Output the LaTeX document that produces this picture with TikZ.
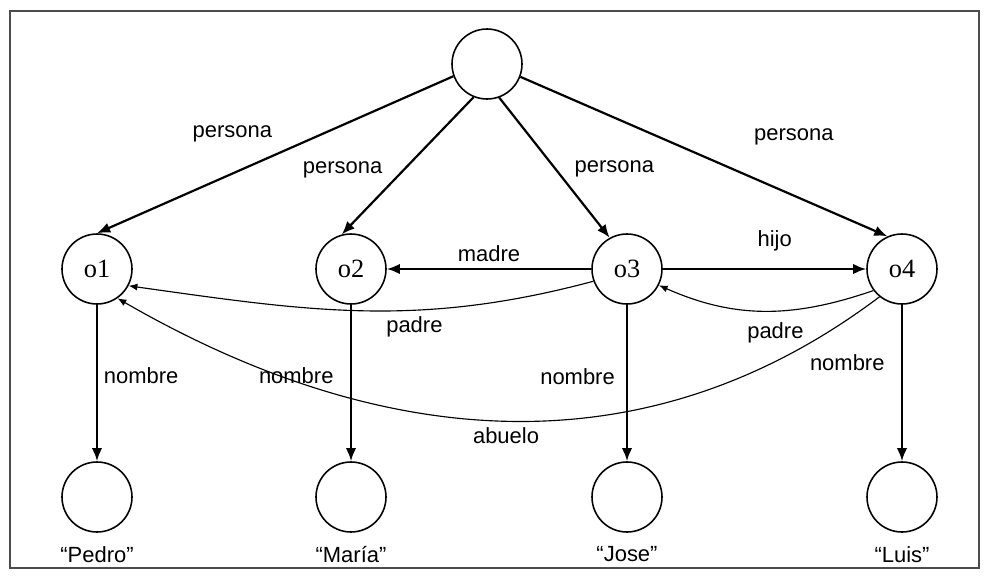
\documentclass[tikz,border=0pt]{standalone}
\usepackage{fontspec}
\setmainfont{Liberation Sans}
\newfontfamily\objfont{Liberation Serif}
\usetikzlibrary{arrows.meta}

\begin{document}
\begin{tikzpicture}[thick,
        main node/.style={circle,draw,line width=0.9pt,minimum size=1.4cm,inner sep=0pt,font=\objfont\fontsize{15}{18}\selectfont},
        rel/.style={-{Latex[length=7.5pt,width=6pt]},line width=1.25pt},
        back/.style={-{Latex[length=5pt,width=4pt]},line width=0.65pt},
        every label/.style={font=\fontsize{12.5}{15}\selectfont}]
        \useasboundingbox (0,0) rectangle (19.68,-11.54);
        \draw[line width=0.8pt,black!70] (0.2,-0.22) rectangle (19.58,-11.36);

        \node[main node] at (9.74, -1.28) (r) {};
        \node[main node] at (1.94, -5.38) (o1) {o1};
        \node[main node] at (7.02, -5.38) (o2) {o2};
        \node[main node] at (12.54, -5.38) (o3) {o3};
        \node[main node] at (18.04, -5.38) (o4) {o4};
        \node[main node,label={[label distance=4pt]below:“Pedro”}] at (1.94, -9.94) (pedro) {};
        \node[main node,label={[label distance=4pt]below:“María”}] at (7.02, -9.94) (maria) {};
        \node[main node,label={[label distance=4pt]below:“Jose”}] at (12.54, -9.94) (jose) {};
        \node[main node,label={[label distance=4pt]below:“Luis”}] at (18.04, -9.94) (luis) {};

        \path[every node/.style={font=\fontsize{12.5}{15}\selectfont}]
            (r.200) edge[rel] node[pos=0.62,above=14pt] {persona} (o1.north)
            (r.248) edge[rel] node[pos=0.64,anchor=south east] {persona} (o2.105)
            (r.290) edge[rel] node[pos=0.62,anchor=south west] {persona} (o3.119)
            (r.339) edge[rel] node[pos=0.745,above=25pt] {persona} (o4.114)
            (o3) edge[rel] node[midway,above] {madre} (o2)
            (o3) edge[rel] node[pos=0.55,above=6pt] {hijo} (o4)
            (o3.200) edge[back,out=195,in=-8] node[pos=0.38,below] {padre} (o1.-28)
            (o4.217) edge[back,out=199,in=-24] node[pos=0.45,below=3pt] {padre} (o3.-27)
            (o4.231) edge[back,out=217,in=-30] node[midway,below] {abuelo} (o1.-55)
            (o1) edge[rel] node[pos=0.45,right] {nombre} (pedro)
            (o2) edge[rel] node[pos=0.45,left=6pt] {nombre} (maria)
            (o3) edge[rel] node[pos=0.46,left=3pt] {nombre} (jose)
            (o4) edge[rel] node[pos=0.37,left=6pt] {nombre} (luis)
            ;
    \end{tikzpicture}
\end{document}
